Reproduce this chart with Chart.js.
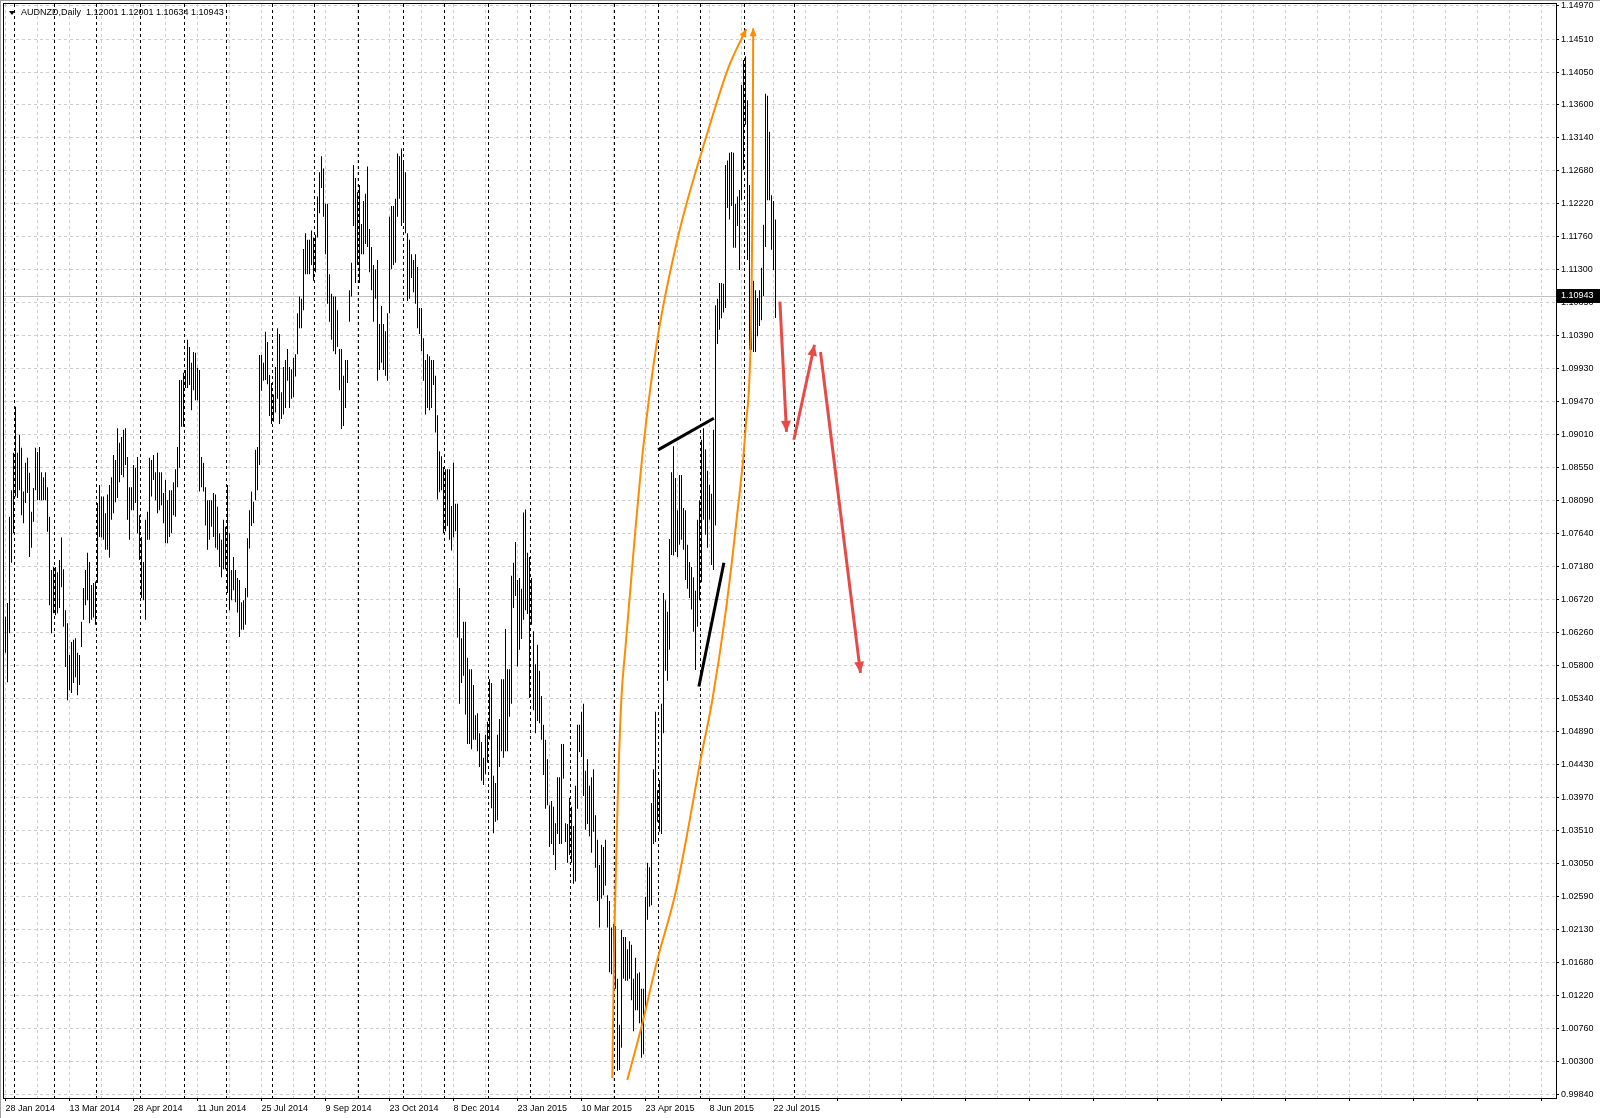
<!DOCTYPE html>
<html><head><meta charset="utf-8">
<script src="https://cdn.jsdelivr.net/npm/chart.js@4.4.0/dist/chart.umd.min.js"></script>
<style>html,body{margin:0;padding:0;background:#fff;overflow:hidden}canvas{display:block}</style>
</head><body><canvas id="c" width="1600" height="1118"></canvas>
<script>
const symbolTitle = 'AUDNZD,Daily  1.12001 1.12001 1.10634 1.10943';
const bidPrice = 1.10943;

const barHighs = [
1.0648,1.0667,1.0787,1.0824,1.0876,1.0940,1.0876,1.0901,1.0883,1.0822,
1.0862,1.0869,1.0848,1.0794,1.0827,1.0883,1.0877,1.0884,1.0849,1.0842,
1.0849,1.0828,1.0787,1.0713,1.0717,1.0717,1.0710,1.0727,1.0758,1.0714,
1.0657,1.0639,1.0595,1.0613,1.0616,1.0618,1.0598,1.0595,1.0641,1.0688,
1.0713,1.0737,1.0724,1.0692,1.0695,1.0697,1.0806,1.0831,1.0815,1.0815,
1.0792,1.0818,1.0831,1.0842,1.0873,1.0866,1.0910,1.0890,1.0898,1.0908,
1.0910,1.0870,1.0828,1.0828,1.0859,1.0855,1.0870,1.0789,1.0759,1.0724,
1.0783,1.0794,1.0869,1.0866,1.0873,1.0849,1.0876,1.0849,1.0849,1.0820,
1.0838,1.0810,1.0824,1.0824,1.0835,1.0853,1.0884,1.0977,1.0977,1.0987,
1.0991,1.1033,1.1023,1.1001,1.1016,1.1015,1.0994,1.0991,1.0870,1.0862,
1.0828,1.0810,1.0810,1.0810,1.0820,1.0818,1.0801,1.0764,1.0755,1.0783,
1.0773,1.0831,1.0764,1.0713,1.0731,1.0713,1.0702,1.0699,1.0668,1.0671,
1.0688,1.0757,1.0796,1.0822,1.0808,1.0880,1.0884,1.1012,1.1012,1.1001,
1.1044,1.1030,1.0984,1.0973,1.0957,1.0995,1.1049,1.1041,1.0960,1.0995,
1.1005,1.1020,1.0995,1.0992,1.1008,1.1013,1.1070,1.1093,1.1090,1.1159,
1.1181,1.1172,1.1172,1.1185,1.1175,1.1179,1.1232,1.1266,1.1288,1.1271,
1.1222,1.1222,1.1124,1.1097,1.1093,1.1093,1.1074,1.1020,1.1020,1.0983,
1.1005,1.1005,1.1102,1.1140,1.1276,1.1258,1.1238,1.1248,1.1194,1.1226,
1.1236,1.1274,1.1187,1.1162,1.1137,1.1131,1.1144,1.1055,1.1080,1.1055,
1.1045,1.1070,1.1204,1.1219,1.1219,1.1229,1.1292,1.1288,1.1299,1.1279,
1.1266,1.1181,1.1172,1.1152,1.1144,1.1152,1.1134,1.1077,1.1077,1.1035,
1.1005,1.1013,1.1010,1.1005,1.1005,1.0983,1.0928,1.0878,1.0871,1.0856,
1.0853,1.0853,1.0853,1.0802,1.0862,1.0805,1.0805,1.0688,1.0618,1.0641,
1.0641,1.0591,1.0575,1.0575,1.0553,1.0511,1.0514,1.0486,1.0474,1.0452,
1.0484,1.0502,1.0561,1.0556,1.0427,1.0417,1.0484,1.0506,1.0561,1.0561,
1.0631,1.0575,1.0575,1.0705,1.0723,1.0752,1.0699,1.0702,1.0687,1.0793,
1.0797,1.0737,1.0731,1.0702,1.0628,1.0582,1.0609,1.0573,1.0538,1.0498,
1.0477,1.0450,1.0386,1.0392,1.0384,1.0361,1.0425,1.0425,1.0471,1.0471,
1.0361,1.0360,1.0396,1.0384,1.0357,1.0413,1.0498,1.0498,1.0516,1.0527,
1.0434,1.0450,1.0413,1.0425,1.0436,1.0372,1.0338,1.0303,1.0331,1.0328,
1.0338,1.0261,1.0253,1.0216,1.0221,1.0218,1.0145,1.0081,1.0213,1.0203,
1.0203,1.0186,1.0197,1.0192,1.0145,1.0174,1.0152,1.0154,1.0131,1.0131,
1.0259,1.0306,1.0300,1.0389,1.0436,1.0516,1.0407,1.0421,1.0527,1.0681,
1.0671,1.0655,1.0756,1.0849,1.0885,1.0841,1.0796,1.0845,1.0845,1.0799,
1.0796,1.0748,1.0724,1.0717,1.0703,1.0684,1.0783,1.0810,1.0894,1.0910,
1.0881,1.0851,1.0831,1.0819,1.0908,1.1081,1.1090,1.1112,1.1112,1.1111,
1.1276,1.1282,1.1293,1.1294,1.1293,1.1222,1.1232,1.1241,1.1387,1.1422,
1.1427,1.1366,1.1248,1.1144,1.1115,1.1102,1.1091,1.1102,1.1133,1.1193,
1.1375,1.1372,1.1322,1.1234,1.1226,1.12001
];

const barLows = [
1.0598,1.0557,1.0625,1.0723,1.0764,1.0815,1.0813,1.0824,1.0789,1.0778,
1.0806,1.0820,1.0731,1.0744,1.0780,1.0824,1.0810,1.0810,1.0810,1.0810,
1.0810,1.0766,1.0664,1.0625,1.0653,1.0650,1.0653,1.0660,1.0689,1.0634,
1.0578,1.0532,1.0546,1.0542,1.0556,1.0564,1.0539,1.0553,1.0606,1.0644,
1.0664,1.0671,1.0639,1.0644,1.0647,1.0637,1.0695,1.0759,1.0758,1.0755,
1.0741,1.0741,1.0730,1.0783,1.0792,1.0807,1.0813,1.0835,1.0845,1.0842,
1.0859,1.0783,1.0755,1.0796,1.0796,1.0806,1.0764,1.0727,1.0674,1.0671,
1.0644,1.0755,1.0755,1.0815,1.0838,1.0810,1.0792,1.0796,1.0803,1.0778,
1.0750,1.0750,1.0759,1.0764,1.0789,1.0787,1.0828,1.0855,1.0912,1.0912,
1.0966,1.0966,1.0970,1.0935,1.0963,1.0949,1.0949,1.0822,1.0828,1.0822,
1.0775,1.0741,1.0755,1.0773,1.0759,1.0744,1.0741,1.0717,1.0703,1.0714,
1.0714,1.0681,1.0657,1.0671,1.0685,1.0668,1.0654,1.0620,1.0630,1.0630,
1.0637,1.0675,1.0743,1.0774,1.0778,1.0810,1.0824,1.0859,1.0962,1.0976,
1.0977,1.0971,1.0927,1.0916,1.0919,1.0932,1.0951,1.0916,1.0923,1.0929,
1.0938,1.0976,1.0938,1.0951,1.0953,1.0982,1.1013,1.1049,1.1049,1.1074,
1.1124,1.1124,1.1124,1.1137,1.1115,1.1127,1.1175,1.1209,1.1244,1.1204,
1.1152,1.1083,1.1058,1.1033,1.1017,1.1013,1.1023,1.0963,1.0909,1.0913,
1.0938,1.0973,1.1058,1.1093,1.1191,1.1112,1.1137,1.1112,1.1152,1.1152,
1.1166,1.1162,1.1127,1.1102,1.1058,1.1090,1.0976,1.0991,1.1001,1.0991,
1.0983,1.0976,1.1070,1.1131,1.1137,1.1140,1.1204,1.1229,1.1191,1.1198,
1.1181,1.1087,1.1090,1.1119,1.1099,1.1083,1.1049,1.1041,1.1017,1.0976,
1.0929,1.0938,1.0935,1.0938,1.0970,1.0904,1.0811,1.0821,1.0824,1.0764,
1.0767,1.0774,1.0755,1.0740,1.0758,1.0767,1.0619,1.0527,1.0556,1.0566,
1.0512,1.0471,1.0471,1.0464,1.0477,1.0477,1.0461,1.0439,1.0420,1.0414,
1.0429,1.0445,1.0477,1.0382,1.0347,1.0363,1.0365,1.0439,1.0461,1.0452,
1.0461,1.0461,1.0509,1.0527,1.0660,1.0677,1.0579,1.0602,1.0617,1.0644,
1.0657,1.0652,1.0535,1.0637,1.0518,1.0486,1.0503,1.0500,1.0477,1.0428,
1.0381,1.0386,1.0328,1.0332,1.0317,1.0296,1.0346,1.0332,1.0332,1.0423,
1.0335,1.0306,1.0317,1.0306,1.0277,1.0280,1.0381,1.0460,1.0453,1.0399,
1.0352,1.0360,1.0343,1.0320,1.0349,1.0299,1.0253,1.0216,1.0256,1.0261,
1.0274,1.0216,1.0154,1.0151,1.0136,1.0131,1.0017,1.0018,1.0049,1.0145,
1.0142,1.0142,1.0145,1.0115,1.0072,1.0101,1.0101,1.0083,1.0035,1.0040,
1.0099,1.0227,1.0245,1.0247,1.0332,1.0335,1.0363,1.0349,1.0346,1.0486,
1.0573,1.0559,1.0602,1.0734,1.0733,1.0738,1.0731,1.0748,1.0755,1.0741,
1.0699,1.0687,1.0674,1.0658,1.0627,1.0574,1.0634,1.0671,1.0696,1.0783,
1.0762,1.0744,1.0783,1.0720,1.0713,1.0775,1.1027,1.1047,1.1063,1.1071,
1.1077,1.1216,1.1200,1.1219,1.1161,1.1161,1.1191,1.1130,1.1227,1.1269,
1.1332,1.1144,1.1019,1.1019,1.1016,1.1016,1.1038,1.1052,1.1060,1.1094,
1.1162,1.1227,1.1227,1.1158,1.1130,1.10634
];

const dateTickLabels = ['28 Jan 2014','13 Mar 2014','28 Apr 2014','11 Jun 2014','25 Jul 2014','9 Sep 2014','23 Oct 2014','8 Dec 2014','23 Jan 2015','10 Mar 2015','23 Apr 2015','8 Jun 2015','22 Jul 2015'];
const dateTickStep = 32;
const gridStep = 16;
const monthSeparators = [4,24,45,67,89,110,133,154,176,199,219,241,262,282,304,326,347,369,394];
const priceTicks = [1.14970,1.14510,1.14050,1.13600,1.13140,1.12680,1.12220,1.11760,1.11300,1.10850,1.10390,1.09930,1.09470,1.09010,1.08550,1.08090,1.07640,1.07180,1.06720,1.06260,1.05800,1.05340,1.04890,1.04430,1.03970,1.03510,1.03050,1.02590,1.02130,1.01680,1.01220,1.00760,1.00300,0.99840];

const orangeArcLeft = [
{x:303.4,y:1.0007},{x:304.5,y:1.0217},{x:306.2,y:1.0403},{x:307.9,y:1.0532},{x:310.0,y:1.0606},
{x:314.2,y:1.0745},{x:318.9,y:1.0884},{x:325.9,y:1.1033},{x:336.7,y:1.1181},{x:350.9,y:1.1320},
{x:361.7,y:1.1413},{x:370.4,y:1.1465}];
const orangeArcRight = [
{x:310.9,y:1.0004},{x:318.0,y:1.0078},{x:325.9,y:1.0171},{x:335.0,y:1.0264},{x:341.5,y:1.0356},
{x:347.5,y:1.0449},{x:353.4,y:1.0532},{x:360.0,y:1.0653},{x:365.9,y:1.0792},{x:370.0,y:1.0908},
{x:373.0,y:1.1088},{x:373.5,y:1.1227},{x:373.85,y:1.1466}];
const trendUpper = [{x:326.3,y:1.0880},{x:354.2,y:1.0924}];
const trendLower = [{x:346.7,y:1.0551},{x:359.2,y:1.0723}];
const redArrow1 = [{x:387.2,y:1.1086},{x:390.5,y:1.0905}];
const redArrow2 = [{x:394.2,y:1.0894},{x:404.5,y:1.1026}];
const redArrow3 = [{x:407.5,y:1.1016},{x:427.5,y:1.0570}];

const FONT = 'Liberation Sans';
Chart.defaults.font.family = FONT;
Chart.defaults.font.size = 9;
Chart.defaults.color = '#000';

const GRID = '#cdcdcd';

const decorPlugin = {
  id: 'decor',
  beforeDatasetsDraw(chart) {
    const {ctx, chartArea: a, scales: {x, y}} = chart;
    ctx.save();
    ctx.strokeStyle = '#000';
    ctx.lineWidth = 1;
    ctx.setLineDash([3, 3]);
    monthSeparators.forEach(m => {
      const px = Math.round(x.getPixelForValue(m)) + 0.5;
      if (px < a.left || px > a.right) return;
      ctx.beginPath(); ctx.moveTo(px, a.top); ctx.lineTo(px, a.bottom); ctx.stroke();
    });
    ctx.setLineDash([]);
    const by = Math.round(y.getPixelForValue(bidPrice)) + 0.5;
    ctx.strokeStyle = '#c0c0c0';
    ctx.beginPath(); ctx.moveTo(a.left, by); ctx.lineTo(a.right, by); ctx.stroke();
    ctx.restore();
  },
  afterDatasetsDraw(chart) {
    const {ctx} = chart;
    chart.data.datasets.forEach((ds, i) => {
      if (!ds.arrowSize) return;
      const pts = chart.getDatasetMeta(i).data;
      const n = pts.length;
      const tip = pts[n - 1], prev = pts[n - 2];
      const ang = Math.atan2(tip.y - prev.y, tip.x - prev.x);
      const L = ds.arrowSize, W = ds.arrowSize * 0.45;
      ctx.save();
      ctx.fillStyle = ds.borderColor;
      ctx.beginPath();
      ctx.moveTo(tip.x, tip.y);
      ctx.lineTo(tip.x - L * Math.cos(ang) + W * Math.sin(ang), tip.y - L * Math.sin(ang) - W * Math.cos(ang));
      ctx.lineTo(tip.x - L * Math.cos(ang) - W * Math.sin(ang), tip.y - L * Math.sin(ang) + W * Math.cos(ang));
      ctx.closePath();
      ctx.fill();
      ctx.restore();
    });
  },
  afterDraw(chart) {
    const {ctx, chartArea: a, scales: {y}} = chart;
    ctx.save();
    ctx.strokeStyle = '#000';
    ctx.lineWidth = 1;
    ctx.strokeRect(a.left - 0.5, a.top - 0.5, a.right - a.left + 1, a.bottom - a.top + 1);
    ctx.strokeStyle = '#a0a0a0';
    ctx.beginPath(); ctx.moveTo(0.5, 0); ctx.lineTo(0.5, chart.height); ctx.moveTo(0, 0.5); ctx.lineTo(chart.width, 0.5); ctx.stroke();
    const by = y.getPixelForValue(bidPrice);
    ctx.fillStyle = '#000';
    ctx.fillRect(a.right + 1, Math.round(by) - 7, chart.width - a.right - 1, 14);
    ctx.fillStyle = '#fff';
    ctx.font = '9px ' + FONT;
    ctx.textBaseline = 'middle';
    ctx.textAlign = 'left';
    ctx.fillText(bidPrice.toFixed(5), a.right + 5, Math.round(by));
    ctx.fillStyle = '#000';
    ctx.beginPath(); ctx.moveTo(9, 11); ctx.lineTo(15, 11); ctx.lineTo(12, 15); ctx.closePath(); ctx.fill();
    ctx.fillText(symbolTitle, 21, 13);
    ctx.restore();
  }
};

const lineDs = (data, color, width, arrow, extra) => Object.assign({
  type: 'line', data, borderColor: color, backgroundColor: color, borderWidth: width,
  pointRadius: 0, fill: false, order: 0, arrowSize: arrow
}, extra || {});

new Chart(document.getElementById('c'), {
  type: 'bar',
  data: {
    datasets: [
      lineDs(orangeArcLeft, '#ff8c00', 2, 8, {cubicInterpolationMode: 'monotone'}),
      lineDs(orangeArcRight, '#ff8c00', 2, 8, {cubicInterpolationMode: 'monotone'}),
      lineDs(trendUpper, '#000', 3, 0),
      lineDs(trendLower, '#000', 3, 0),
      lineDs(redArrow1, '#e84a47', 3, 11),
      lineDs(redArrow2, '#e84a47', 3, 11),
      lineDs(redArrow3, '#e84a47', 3, 11),
      {
        type: 'bar',
        data: barHighs.map((h, i) => ({x: i, y: [barLows[i], h]})),
        backgroundColor: '#000',
        borderWidth: 0,
        barThickness: 1,
        inflateAmount: 0,
        grouped: false,
        order: 10
      }
    ]
  },
  options: {
    responsive: false,
    animation: false,
    devicePixelRatio: 1,
    layout: {padding: {left: 4, top: 4, right: 0, bottom: 0}},
    plugins: {legend: {display: false}, tooltip: {enabled: false}},
    scales: {
      x: {
        type: 'linear', position: 'bottom', offset: false,
        min: -0.75, max: 775.25,
        afterBuildTicks(scale) {
          const t = [];
          for (let v = 0; v <= 768; v += gridStep) t.push({value: v});
          scale.ticks = t;
        },
        afterFit(scale) { scale.height = 20; scale.paddingLeft = 0; scale.paddingRight = 0; },
        grid: {
          offset: false, color: GRID, lineWidth: 1, drawOnChartArea: true, drawTicks: true, tickLength: 3,
          tickColor: (c) => (c.tick && c.tick.value % dateTickStep === 0) ? '#000' : 'rgba(0,0,0,0)',
          tickBorderDash: []
        },
        border: {display: false, dash: [3, 3]},
        ticks: {
          autoSkip: false, maxRotation: 0, minRotation: 0, align: 'start', padding: 2,
          font: {family: FONT, size: 9}, color: '#000',
          callback: (v) => (v % dateTickStep === 0 && dateTickLabels[v / dateTickStep]) ? dateTickLabels[v / dateTickStep] : ''
        }
      },
      y: {
        type: 'linear', position: 'right',
        min: 0.99791, max: 1.14997,
        afterBuildTicks(scale) { scale.ticks = priceTicks.map(v => ({value: v})); },
        afterFit(scale) { scale.width = 44; scale.paddingTop = 0; scale.paddingBottom = 0; },
        grid: {color: GRID, lineWidth: 1, drawTicks: true, tickLength: 3, tickColor: '#000', tickBorderDash: []},
        border: {display: false, dash: [3, 3]},
        ticks: {
          autoSkip: false, padding: 2, font: {family: FONT, size: 9}, color: '#000',
          callback: (v) => Number(v).toFixed(5)
        }
      }
    }
  },
  plugins: [decorPlugin]
});
</script>
</body></html>
